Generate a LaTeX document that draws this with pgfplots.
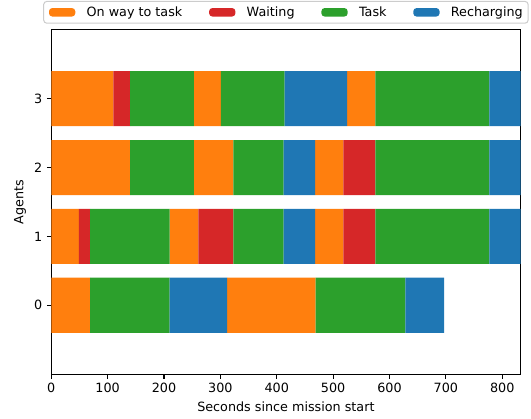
\documentclass[border=0pt]{standalone}
\usepackage{pgfplots}
\pgfplotsset{compat=1.18}
\usepackage{fontspec}
\setmainfont{DejaVu Sans}
\definecolor{tOrange}{HTML}{FF7F0E}
\definecolor{tRed}{HTML}{D62728}
\definecolor{tGreen}{HTML}{2CA02C}
\definecolor{tBlue}{HTML}{1F77B4}
\begin{document}
\begin{tikzpicture}
\begin{axis}[
  scale only axis, width=368pt, height=270pt,
  xmin=0, xmax=832.5, ymin=-1, ymax=4,
  xtick={0,100,200,300,400,500,600,700,800}, ytick={0,1,2,3},
  tick align=outside, tick pos=left, major tick length=3.5pt,
  axis line style={line width=0.8pt},
  every tick/.style={black, line width=0.8pt},
  /pgf/number format/assume math mode=true,
  tick label style={font=\fontsize{10}{12}\selectfont},
  label style={font=\fontsize{10}{12}\selectfont},
  xlabel={Seconds since mission start},
  ylabel={Agents},
  xlabel style={at={(axis description cs:0.5,-0.0944)}, anchor=center},
  ylabel style={at={(axis description cs:-0.0663,0.5)}, anchor=center},
  unbounded coords=jump,
  legend columns=4,
  legend style={at={(0.5,1)}, anchor=south, yshift=4.8pt, draw=black!20,
    rounded corners=2.5pt, line width=0.8pt, inner xsep=4.2pt, inner ysep=2pt,
    font=\fontsize{10}{12}\selectfont,
    nodes={inner xsep=0pt},
    /tikz/every odd column/.style={column sep=8.9pt},
    /tikz/every even column/.style={column sep=21pt}},
  legend image code/.code={\fill[#1] (0pt,-3.3pt) rectangle (20.6pt,3.3pt);},
]
% On way to task
\addplot[fill=tOrange, draw=none] coordinates {
 (0,2.6)(110,2.6)(110,3.4)(0,3.4) (nan,nan)
 (253,2.6)(301,2.6)(301,3.4)(253,3.4) (nan,nan)
 (525,2.6)(575,2.6)(575,3.4)(525,3.4) (nan,nan)
 (0,1.6)(140,1.6)(140,2.4)(0,2.4) (nan,nan)
 (253,1.6)(323,1.6)(323,2.4)(253,2.4) (nan,nan)
 (468,1.6)(518,1.6)(518,2.4)(468,2.4) (nan,nan)
 (0,0.6)(49,0.6)(49,1.4)(0,1.4) (nan,nan)
 (210,0.6)(261,0.6)(261,1.4)(210,1.4) (nan,nan)
 (468,0.6)(518,0.6)(518,1.4)(468,1.4) (nan,nan)
 (0,-0.4)(69,-0.4)(69,0.4)(0,0.4) (nan,nan)
 (312,-0.4)(469,-0.4)(469,0.4)(312,0.4)
};
\addlegendentry{On way to task}
% Waiting
\addplot[fill=tRed, draw=none] coordinates {
 (110,2.6)(140,2.6)(140,3.4)(110,3.4) (nan,nan)
 (518,1.6)(575,1.6)(575,2.4)(518,2.4) (nan,nan)
 (49,0.6)(69,0.6)(69,1.4)(49,1.4) (nan,nan)
 (261,0.6)(323,0.6)(323,1.4)(261,1.4) (nan,nan)
 (518,0.6)(575,0.6)(575,1.4)(518,1.4)
};
\addlegendentry{Waiting}
% Task
\addplot[fill=tGreen, draw=none] coordinates {
 (140,2.6)(253,2.6)(253,3.4)(140,3.4) (nan,nan)
 (301,2.6)(414,2.6)(414,3.4)(301,3.4) (nan,nan)
 (575,2.6)(777,2.6)(777,3.4)(575,3.4) (nan,nan)
 (140,1.6)(253,1.6)(253,2.4)(140,2.4) (nan,nan)
 (323,1.6)(412,1.6)(412,2.4)(323,2.4) (nan,nan)
 (575,1.6)(777,1.6)(777,2.4)(575,2.4) (nan,nan)
 (69,0.6)(210,0.6)(210,1.4)(69,1.4) (nan,nan)
 (323,0.6)(412,0.6)(412,1.4)(323,1.4) (nan,nan)
 (575,0.6)(777,0.6)(777,1.4)(575,1.4) (nan,nan)
 (69,-0.4)(210,-0.4)(210,0.4)(69,0.4) (nan,nan)
 (469,-0.4)(628,-0.4)(628,0.4)(469,0.4)
};
\addlegendentry{Task}
% Recharging
\addplot[fill=tBlue, draw=none] coordinates {
 (414,2.6)(525,2.6)(525,3.4)(414,3.4) (nan,nan)
 (777,2.6)(832.5,2.6)(832.5,3.4)(777,3.4) (nan,nan)
 (412,1.6)(468,1.6)(468,2.4)(412,2.4) (nan,nan)
 (777,1.6)(832.5,1.6)(832.5,2.4)(777,2.4) (nan,nan)
 (412,0.6)(468,0.6)(468,1.4)(412,1.4) (nan,nan)
 (777,0.6)(832.5,0.6)(832.5,1.4)(777,1.4) (nan,nan)
 (210,-0.4)(312,-0.4)(312,0.4)(210,0.4) (nan,nan)
 (628,-0.4)(697,-0.4)(697,0.4)(628,0.4)
};
\addlegendentry{Recharging}
\end{axis}
\pgfresetboundingbox
\path ([xshift=-40.2pt,yshift=-34.5pt]current axis.south west) rectangle ([xshift=8.2pt,yshift=23.4pt]current axis.north east);
\end{tikzpicture}
\end{document}
